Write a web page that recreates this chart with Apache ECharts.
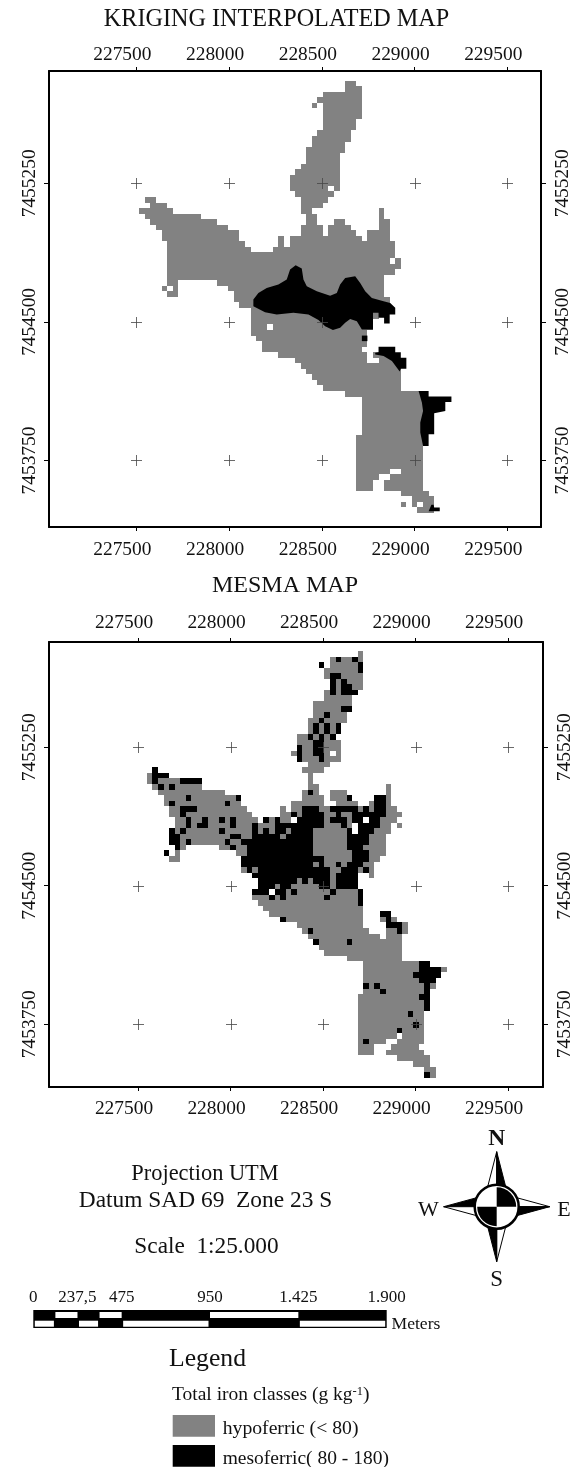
<!DOCTYPE html>
<html><head><meta charset="utf-8">
<style>html,body{margin:0;padding:0;background:#fff}#c{width:574px;height:1467px}</style>
<script src="https://cdn.jsdelivr.net/npm/echarts@6/dist/echarts.min.js"></script>
</head><body><div id="c"></div>
<script>
const eastingTicks = [227500, 228000, 228500, 229000, 229500];
const northingTicks = [7455250, 7454500, 7453750];
const scaleBarLabels = ['0', '237,5', '475', '950', '1.425', '1.900'];
const scaleBarLabelMetres = [0, 237.5, 475, 950, 1425, 1900];
const scaleBarDivisions = [0, 118.75, 237.5, 356.25, 475, 950, 1425, 1900];
const CELL = 30;
const GRAY = '#828282', BLACK = '#000000';

// Kriging map: hypoferric cells, one string per 30 m row, runs of columns
const krigingRows = [
'40-41','40-42','36-42','35-42','34 36-42','36-42','36-42','36-41','36-41','35-40',
'34-40','34-39','33-39','33-38','33-38','32-38','31-38','30-38','30-38','30-36 38',
'31-37','4-5 32-36','5-7 32-35','3-8 32-33 46','4-13 33-34 46','5-16 33-34 38-39 46-47',
'6-18 32-35 37-40 46-47','7-20 32-35 37-41 44-47','7-20 28 30-42 44-47','8-21 28 30-48',
'8-22 27-48','8-48','8-47 49','8-49','8-48','8-46','8-9 17-46','7 9 19-46','8-9 20-46','20-47',
'21-47','23-45','23-45','23-44','23-25 27-44','23-43','24-43','25-43','25-42','28-43 45-48',
'31-43 46-49','32-49','33-49','34-49','35-49','36-49','40-53','43-53','43-53','43-53',
'43-53','43-53','43-53','43-53','42-53','42-53','42-53','42-53','42-53','42-53',
'42-47 50-53','42-45 48-53','42-44 47-53','42-44 47-53','50-54','52-55','50 52 54-55','53-55'
];
// Kriging map: mesoferric patches, outlines in [column,row] grid units
const krigingMesoPatches = [
[[23.5,39.5],[24.4,38.3],[25.9,37.4],[28,36.8],[29.5,35.9],[30.1,34.1],[31.1,33.3],[32.2,33.9],[32.5,35.9],[33.1,37.1],[34.9,38],[37.3,38.8],[38.5,38.3],[39.1,36.8],[40,35.6],[41.8,35.3],[42.7,36.5],[43.6,38],[44.8,39.2],[46.9,39.8],[48.1,40.1],[49,41],[49,42.2],[48,42.2],[48,43.8],[47,43.8],[47,42.8],[46,42.8],[46,41.9],[45,41.9],[45,44.9],[43,44.9],[42.1,43.4],[40.9,43],[40,43.7],[39.1,44.6],[37.8,45],[36.4,44.3],[35.2,43.2],[33.4,42.2],[30.7,41.9],[27.7,42.2],[25.6,41.8],[23.5,40.7]],
[[43,46],[44,46],[44,47],[43,47]],
[[45.4,49.1],[46,49],[46,48],[49,48],[49,49],[50,49],[50,50],[51,50],[51,52],[50,52],[49.8,52.5],[49.3,51.8],[48.4,50.6],[46.9,49.7],[45.4,49.4]],
[[53.2,56],[55,56],[55,57],[59.1,57],[59.1,58],[58,58],[58,59.6],[56,60],[56,63.8],[55,63.8],[55,65.9],[54,65.9],[53.5,63.5],[53.5,61.7],[54,59.6],[53.8,58.1]],
[[55.5,76.5],[55.9,76.5],[56,77],[57,77],[57,77.7],[55,77.7]]
];
// MESMA map: one string per 30 m row: hypoferric runs | mesoferric runs
const mesmaRows = [
'41','36-41|37 40','36-41|34 41','35-41|41','35-41|36-37','36-41|36 38','36-41|36 38-39','35-40|36 38-40','35-39','33-39',
'33-39|38-39','33-38|35','32-38|34','32-37|33 35 37','32-37|33 35 37','30-36|32 34 36','30-37|33-34','30-37|30 33-34','29-35 37|30 33-34','30-37|30 34',
'32-35','4 31-34|4','3-6 32|4-6','3-12 32|4 9-12','4-12 32-33 46|5 7','5-16 31-33 36-38 46|32','6-19 31-34 36-38 46|10 19 39 44-45','6-19 29-34 37-40 43-46|7 17 44-45','7-20 27 29-47|9-11 31-33 36-40 42 44-45','7-21 27-48|9 29 31-34 37 40-45',
'8-22 24-28 30-41 43-47|10 13 16 18 24 26 30-34 36-38 40-41 43-44','8-39 41-46 48|10 12-13 18 22 26-34 38 41-44','7-39 41-46|7 9 16 22 24 26-27 29-32 39 41-43','7-45|7-8 18-19 22-26 28-32 39-42','7-45|7-8 10 17 20-32 39-42','8-9 16-45|8 18 21-32 39-41','8 19-45|6 21-32 40-42','7-8 20-44|20-34 40-42','20-43|20-32 34 37 39-41','20-43|21 23-35 38-40 42',
'22-40 43|22-35 37-40','23-40|23-29 31 33-35 37-40','23-40|23-25 27-28 34-35 37-40','22-24 26-41|22-24 26-27 29 36 41','22-41|25 27 35 41','23-41|41','24-41','25-41 45-46|45-46','27-41 45-47|27 46','30-41 46-49|46-48',
'31-42 46-49|32 48','32-44 46-48','33-48|33 39','34-48','35-48','39-48','42-53|52-53','42-56|52-55','42-55|51-55','42-54|52-54',
'42-54|42 44 53','42-53|45 53','41-53|52-53','41-53|53','41-53|53','41-52|50','41-52','41-52|51','41-52|48','41-47 49-52',
'41-45 48-52|42','41-43 47-51','41-43 46-52','48-53','51-53','53-54','53-54|53'
];
// origin of the cell grids, UTM metres
const krigingOrigin = {e: 227426, n: 7455806};
const mesmaOrigin = {e: 227458, n: 7455771};

function parseRuns(s){
  if(!s) return [];
  return s.trim().split(/\s+/).map(t=>{const p=t.split('-').map(Number);return [p[0],p.length>1?p[1]:p[0]];});
}
function rowsToRects(rows,part,org){
  const out=[];
  rows.forEach((row,r)=>{
    parseRuns(row.split('|')[part]).forEach(run=>{
      out.push([org.e+run[0]*CELL,org.n-r*CELL,org.e+(run[1]+1)*CELL,org.n-(r+1)*CELL]);
    });
  });
  return out;
}
const FONT='"Liberation Serif","Times New Roman",serif';
function rectSeries(data,color,xi,yi,z){
  return {type:'custom',xAxisIndex:xi,yAxisIndex:yi,data:data,z:z,silent:true,animation:false,clip:true,
    encode:{x:[0,2],y:[1,3]},
    renderItem:function(p,api){
      const a=api.coord([api.value(0),api.value(1)]),b=api.coord([api.value(2),api.value(3)]);
      const x0=Math.round(a[0]),y0=Math.round(a[1]),x1=Math.round(b[0]),y1=Math.round(b[1]);
      return {type:'rect',shape:{x:x0,y:y0,width:x1-x0,height:y1-y0},style:{fill:color}};
    }};
}
function polySeries(polys,org,xi,yi,z){
  const data=polys.map((_,i)=>[i]);
  return {type:'custom',xAxisIndex:xi,yAxisIndex:yi,data:data,z:z,silent:true,animation:false,
    encode:{x:[],y:[]},
    renderItem:function(p,api){
      const poly=polys[api.value(0)];
      const pts=poly.map(q=>api.coord([org.e+q[0]*CELL,org.n-q[1]*CELL]));
      return {type:'polygon',shape:{points:pts},style:{fill:BLACK}};
    }};
}
function crossSeries(xi,yi){
  const data=[];
  northingTicks.forEach(n=>eastingTicks.forEach(e=>data.push([e,n])));
  return {type:'custom',xAxisIndex:xi,yAxisIndex:yi,data:data,z:9,silent:true,animation:false,
    encode:{x:0,y:1},
    renderItem:function(p,api){
      const c=api.coord([api.value(0),api.value(1)]);
      const x=Math.round(c[0])+0.5,y=Math.round(c[1])+0.5,L=5.5;
      const st={stroke:'rgba(70,70,70,0.8)',lineWidth:1,fill:null};
      return {type:'group',children:[
        {type:'line',shape:{x1:x-L,y1:y,x2:x+L,y2:y},style:st},
        {type:'line',shape:{x1:x,y1:y-L,x2:x,y2:y+L},style:st}]};
    }};
}
const frameLine={color:'#000',width:2};
function xAx(pos,gi,min,max,margin){return {type:'value',gridIndex:gi,position:pos,min:min,max:max,
  axisLine:{show:true,onZero:false,lineStyle:frameLine},
  axisTick:{show:true,length:4,inside:false,customValues:eastingTicks,lineStyle:{color:'#000',width:1}},
  axisLabel:{show:true,customValues:eastingTicks,margin:margin,padding:[0,28,0,0],color:'#111',fontFamily:FONT,fontSize:19.4,formatter:v=>String(v),hideOverlap:false},
  splitLine:{show:false}};}
function yAx(pos,gi,min,max,margin){return {type:'value',gridIndex:gi,position:pos,min:min,max:max,
  axisLine:{show:true,onZero:false,lineStyle:frameLine},
  axisTick:{show:true,length:5,inside:false,customValues:northingTicks,lineStyle:{color:'#000',width:1}},
  axisLabel:{show:true,customValues:northingTicks,rotate:90,margin:margin,color:'#111',fontFamily:FONT,fontSize:19.4,formatter:v=>String(v),hideOverlap:false},
  splitLine:{show:false}};}

const k={x0:227029,x1:229682,y0:7453390,y1:7455858};
const m={x0:227019,x1:229689,y0:7453410,y1:7455820};

function txt(text,x,y,size,opt){
  return {type:'text',x:x,y:y,silent:true,z:20,style:Object.assign({text:text,fill:'#111',font:size+'px '+FONT,align:'center',verticalAlign:'middle'},opt||{})};
}
function box(x,y,w,h,fill){return {type:'rect',silent:true,z:20,shape:{x:x,y:y,width:w,height:h},style:{fill:fill}};}

// scale bar geometry from its metre values through a linear scale
const barLeft=33.3,barRight=386.7;
const barM=v=>barLeft+(barRight-barLeft)*v/1900;
const graphicEls=[];
graphicEls.push(txt('KRIGING INTERPOLATED MAP',276.5,20,24.2));
graphicEls.push(txt('MESMA MAP',285,586,24));
graphicEls.push(txt('Projection UTM',205,1174,22.4));
graphicEls.push(txt('Datum SAD 69  Zone 23 S',205.5,1201,23.4));
graphicEls.push(txt('Scale  1:25.000',206.5,1247,23.3));
scaleBarLabels.forEach((t,i)=>graphicEls.push(txt(t,barM(scaleBarLabelMetres[i]),1298,17)));
graphicEls.push(box(barLeft,1310,barRight-barLeft,18,BLACK));
for(let i=0;i<scaleBarDivisions.length-1;i++){
  const x0=barM(scaleBarDivisions[i]),x1=barM(scaleBarDivisions[i+1]);
  if(i%2===1) graphicEls.push(box(x0,1312,x1-x0,6,'#fff'));
  else graphicEls.push(box(x0+1.5,1320.7,x1-x0-3,6,'#fff'));
}
graphicEls.push(txt('Meters',391.5,1324,17.6,{align:'left'}));
graphicEls.push(txt('Legend',169,1359,25.7,{align:'left'}));
graphicEls.push({type:'text',x:172,y:1395,silent:true,z:20,style:{
  text:'{a|Total iron classes (g kg}{s|-1}{a|)}',verticalAlign:'middle',align:'left',
  rich:{a:{font:'19.5px '+FONT,fill:'#111'},s:{font:'12.5px '+FONT,fill:'#111',verticalAlign:'top',padding:[0,0,6,0]}}}});
graphicEls.push(box(172.7,1415,42.3,21.7,GRAY));
graphicEls.push(box(172.7,1445,42.3,21.7,BLACK));
graphicEls.push(txt('hypoferric (< 80)',222.7,1428.7,19.7,{align:'left'}));
graphicEls.push(txt('mesoferric( 80 - 180)',222.7,1458.5,19.5,{align:'left'}));

// compass
const cx=496.7,cy=1206.7;
const P=(pts,fill)=>({type:'polygon',silent:true,z:21,shape:{points:pts.map(q=>[cx+q[0],cy+q[1]])},style:{fill:fill,stroke:'#000',lineWidth:1,lineJoin:'miter'}});
graphicEls.push(P([[0,-55],[-9,-20],[0,-20]],'#fff'));
graphicEls.push(P([[0,-55],[9,-20],[0,-20]],'#000'));
graphicEls.push(P([[0,55],[9,20],[0,20]],'#fff'));
graphicEls.push(P([[0,55],[-9,20],[0,20]],'#000'));
graphicEls.push(P([[-53,0],[-20,-9],[-20,0]],'#000'));
graphicEls.push(P([[-53,0],[-20,9],[-20,0]],'#fff'));
graphicEls.push(P([[53,0],[20,-9],[20,0]],'#fff'));
graphicEls.push(P([[53,0],[20,9],[20,0]],'#000'));
graphicEls.push({type:'circle',silent:true,z:22,shape:{cx:cx,cy:cy,r:22},style:{fill:'#fff',stroke:'#000',lineWidth:2.5}});
graphicEls.push({type:'sector',silent:true,z:23,shape:{cx:cx,cy:cy,r:19.5,r0:0,startAngle:-Math.PI/2,endAngle:0},style:{fill:'#000'}});
graphicEls.push({type:'sector',silent:true,z:23,shape:{cx:cx,cy:cy,r:19.5,r0:0,startAngle:Math.PI/2,endAngle:Math.PI},style:{fill:'#000'}});
graphicEls.push(txt('N',496.7,1139,23.5,{font:'bold 23.5px '+FONT}));
graphicEls.push(txt('W',428.5,1210,22));
graphicEls.push(txt('E',564,1210,22));
graphicEls.push(txt('S',496.7,1280,23));

const chart=echarts.init(document.getElementById('c'),null,{renderer:'canvas',width:574,height:1467});
chart.setOption({
  animation:false,backgroundColor:'#fff',
  textStyle:{fontFamily:FONT},
  grid:[{left:49,top:71,width:492,height:456,show:false},{left:49,top:642,width:496,height:445,show:false}],
  xAxis:[xAx('bottom',0,k.x0,k.x1,13),xAx('top',0,k.x0,k.x1,7),xAx('bottom',1,m.x0,m.x1,12),xAx('top',1,m.x0,m.x1,10)],
  yAxis:[yAx('left',0,k.y0,k.y1,10),yAx('right',0,k.y0,k.y1,12),yAx('left',1,m.y0,m.y1,10),yAx('right',1,m.y0,m.y1,12)],
  series:[
    rectSeries(rowsToRects(krigingRows,0,krigingOrigin),GRAY,0,0,2),
    polySeries(krigingMesoPatches,krigingOrigin,0,0,3),
    crossSeries(0,0),
    rectSeries(rowsToRects(mesmaRows,0,mesmaOrigin),GRAY,2,2,2),
    rectSeries(rowsToRects(mesmaRows,1,mesmaOrigin),BLACK,2,2,3),
    crossSeries(2,2)
  ],
  graphic:{elements:graphicEls}
});
</script></body></html>
